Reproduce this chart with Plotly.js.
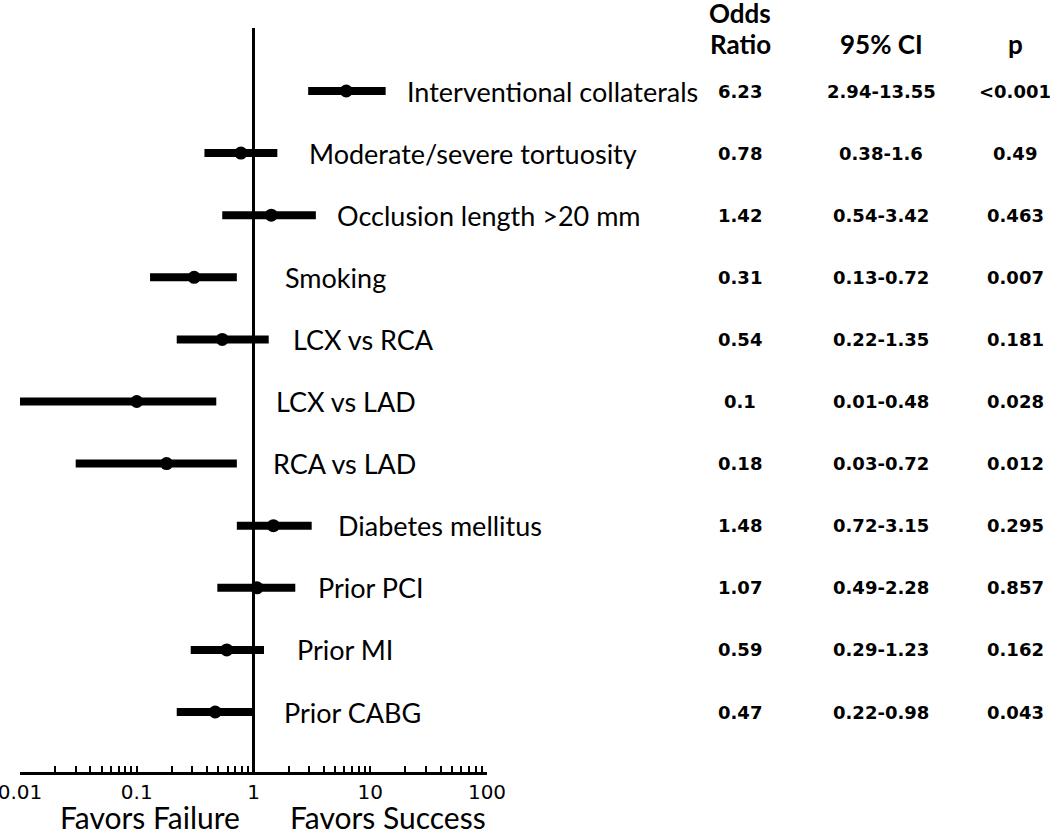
<!DOCTYPE html>
<html>
<head>
<meta charset="utf-8">
<script src="https://cdn.plot.ly/plotly-3.0.1.min.js"></script>
<style>html,body{margin:0;padding:0;background:#fff;}#chart{width:1050px;height:837px;}</style>
</head>
<body>
<div id="chart"></div>
<script>
// ---------- data ----------
const factors = ["Interventional collaterals", "Moderate/severe tortuosity", "Occlusion length >20 mm",
  "Smoking", "LCX vs RCA", "LCX vs LAD", "RCA vs LAD", "Diabetes mellitus", "Prior PCI", "Prior MI", "Prior CABG"];
const oddsRatio = [6.23, 0.78, 1.42, 0.31, 0.54, 0.1, 0.18, 1.48, 1.07, 0.59, 0.47];
const ciLow  = [2.94, 0.38, 0.54, 0.13, 0.22, 0.01, 0.03, 0.72, 0.49, 0.29, 0.22];
const ciHigh = [13.55, 1.6, 3.42, 0.72, 1.35, 0.48, 0.72, 3.15, 2.28, 1.23, 0.98];
const orText = ["6.23", "0.78", "1.42", "0.31", "0.54", "0.1", "0.18", "1.48", "1.07", "0.59", "0.47"];
const ciText = ["2.94-13.55", "0.38-1.6", "0.54-3.42", "0.13-0.72", "0.22-1.35", "0.01-0.48",
  "0.03-0.72", "0.72-3.15", "0.49-2.28", "0.29-1.23", "0.22-0.98"];
const pText = ["<0.001", "0.49", "0.463", "0.007", "0.181", "0.028", "0.012", "0.295", "0.857", "0.162", "0.043"];
const tickValues = [0.01, 0.1, 1, 10, 100];
const tickLabels = ["0.01", "0.1", "1", "10", "100"];
const headerTop = ["Odds", "", ""];
const headerBottom = ["Ratio", "95% CI", "p"];
const directionLabels = ["Favors Failure", "Favors Success"];

// ---------- layout helpers ----------
const W = 1050, H = 837, ML = 20, MT = 0, MB = 65;
const plotW = W - ML, plotH = H - MT - MB;
const px = p => (p - ML) / plotW;          // pixel x -> paper x
const py = p => 1 - (p - MT) / plotH;      // pixel y -> paper y
const labelPx = [405, 307, 335, 283, 291, 274, 271, 336, 316, 295, 282];
const colPx = [740, 881, 1015];

const rows = factors.map((_, i) => i);

// CI line segments
const segX = [], segY = [];
rows.forEach(i => { segX.push(ciLow[i], ciHigh[i], null); segY.push(i, i, null); });

const traces = [
  {x: segX, y: segY, type: 'scatter', mode: 'lines', line: {color: '#000', width: 8},
   hoverinfo: 'skip', cliponaxis: false},
  {x: oddsRatio, y: rows, type: 'scatter', mode: 'markers',
   marker: {color: '#000', size: 13, symbol: 'circle'}, cliponaxis: false,
   text: factors, hoverinfo: 'text+x'}
];

const minorVals = [];
for (let e = -2; e < 2; e++) for (let m = 2; m <= 9; m++) minorVals.push(m * Math.pow(10, e));

const labelFont = {family: 'Lato, sans-serif', size: 27, color: '#000'};
const numFont = {family: 'DejaVu Sans, sans-serif', size: 18, color: '#000', weight: 'bold'};
const headFont = {family: 'Lato, sans-serif', size: 26, color: '#000', weight: 'bold'};
const dirFont = {family: 'Lato, sans-serif', size: 30, color: '#000'};

const annotations = [];
rows.forEach(i => {
  annotations.push({text: factors[i], xref: 'paper', yref: 'y', x: px(labelPx[i]), y: i,
    xanchor: 'left', yanchor: 'middle', showarrow: false, font: labelFont});
  [orText[i], ciText[i], pText[i]].forEach((t, c) => {
    annotations.push({text: '<b>' + t + '</b>', xref: 'paper', yref: 'y', x: px(colPx[c]), y: i,
      xanchor: 'center', yanchor: 'middle', showarrow: false, font: numFont});
  });
});
headerTop.forEach((h, c) => {
  if (!h) return;
  annotations.push({text: '<b>' + h + '</b>', xref: 'paper', yref: 'paper', x: px(colPx[c]), y: py(13),
    xanchor: 'center', yanchor: 'middle', showarrow: false, font: headFont});
});
headerBottom.forEach((h, c) => {
  annotations.push({text: '<b>' + h + '</b>', xref: 'paper', yref: 'paper', x: px(colPx[c]), y: py(44),
    xanchor: 'center', yanchor: 'middle', showarrow: false, font: headFont});
});
annotations.push({text: directionLabels[0], xref: 'paper', yref: 'paper', x: px(150), y: py(837),
  xanchor: 'center', yanchor: 'bottom', showarrow: false, font: dirFont});
annotations.push({text: directionLabels[1], xref: 'paper', yref: 'paper', x: px(388), y: py(837),
  xanchor: 'center', yanchor: 'bottom', showarrow: false, font: dirFont});

const rowPitch = 62.1, firstRowPx = 91;
const yTop = -(firstRowPx - MT) / rowPitch;
const yBottom = yTop + plotH / rowPitch;

const layout = {
  width: W, height: H,
  margin: {l: ML, r: 0, t: MT, b: MB, pad: 0},
  paper_bgcolor: '#fff', plot_bgcolor: '#fff',
  showlegend: false,
  xaxis: {type: 'log', range: [-2, 2], domain: [0, 467 / plotW],
    tickvals: tickValues, ticktext: tickLabels, ticklabeloverflow: 'allow',
    ticks: 'inside', ticklen: 6, tickwidth: 2, tickcolor: '#000',
    showline: true, linewidth: 3, linecolor: '#000', showgrid: false, zeroline: false,
    tickfont: {family: 'DejaVu Sans, sans-serif', size: 20, color: '#000'},
    minor: {tickvals: minorVals, ticks: 'inside', ticklen: 6, tickwidth: 2, tickcolor: '#000', showgrid: false},
    fixedrange: true},
  yaxis: {range: [yBottom, yTop], visible: false, showgrid: false, zeroline: false, fixedrange: true},
  shapes: [{type: 'line', xref: 'x', yref: 'paper', x0: 1, x1: 1, y0: 0, y1: py(28),
    line: {color: '#000', width: 3}}],
  annotations: annotations
};

Plotly.newPlot('chart', traces, layout, {displayModeBar: false, staticPlot: true});
</script>
</body>
</html>
